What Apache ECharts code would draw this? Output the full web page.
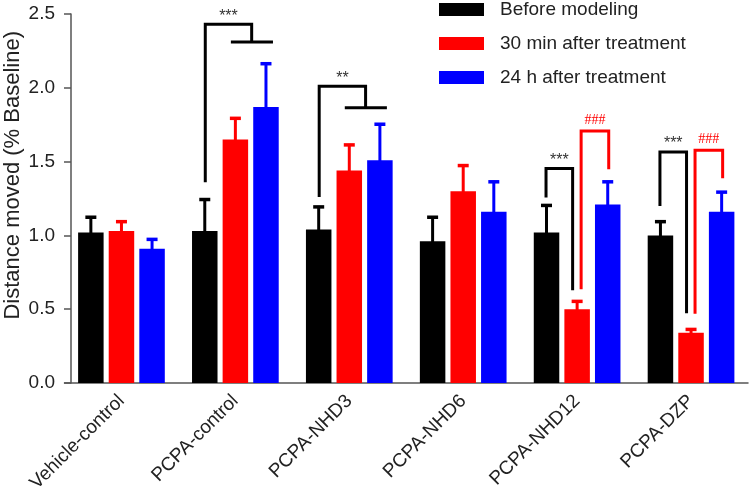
<!DOCTYPE html>
<html>
<head>
<meta charset="utf-8">
<script src="https://cdn.jsdelivr.net/npm/echarts@6/dist/echarts.min.js"></script>
<style>
html,body{margin:0;padding:0;background:#fff;}
#chart{width:749px;height:495px;}
</style>
</head>
<body>
<div id="chart"></div>
<script>
// ---- data ----
const categories = ['Vehicle-control','PCPA-control','PCPA-NHD3','PCPA-NHD6','PCPA-NHD12','PCPA-DZP'];
const seriesNames = ['Before modeling','30 min after treatment','24 h after treatment'];
const beforeMean = [1.02, 1.03, 1.04, 0.96, 1.02, 1.00];
const beforeErr  = [0.11, 0.22, 0.16, 0.17, 0.19, 0.10];
const min30Mean  = [1.03, 1.65, 1.44, 1.30, 0.50, 0.34];
const min30Err   = [0.07, 0.15, 0.18, 0.18, 0.06, 0.03];
const h24Mean    = [0.91, 1.87, 1.51, 1.16, 1.21, 1.16];
const h24Err     = [0.07, 0.30, 0.25, 0.21, 0.16, 0.14];
const yTicks = [0, 0.5, 1.0, 1.5, 2.0, 2.5];
// significance brackets spanning black bar -> (red+blue) group: [category, leg bottom, top, drop bottom, label]
const groupBrackets = [
  [1, 1.36, 2.43, 2.31, '***'],
  [2, 1.26, 2.01, 1.865, '**']
];
// pair brackets: [category, from bar, to bar, from bottom, top, to bottom, label]
const pairBrackets = [
  [4, 0, 1, 1.257, 1.453, 0.629, '***'],
  [4, 1, 2, 0.635, 1.707, 1.449, '###'],
  [5, 0, 1, 1.20, 1.565, 0.472, '***'],
  [5, 1, 2, 0.47, 1.577, 1.388, '###']
];

// ---- styling ----
const colors = ['#000000', '#ff0000', '#0000ff'];
const FONT = 'Liberation Sans, Arial, Helvetica, sans-serif';
const BAR_W = 25.5;
const BAR_GAP = 0.2;
const STEP = BAR_W * (1 + BAR_GAP);
const LW = 3;

const means = [beforeMean, min30Mean, h24Mean];
const errs = [beforeErr, min30Err, h24Err];

const chart = echarts.init(document.getElementById('chart'), null, {renderer: 'canvas'});

const barSeries = seriesNames.map((name, i) => ({
  name: name,
  type: 'bar',
  data: means[i],
  barWidth: BAR_W,
  barGap: (BAR_GAP * 100) + '%',
  itemStyle: {color: colors[i]},
  z: 2
}));

const errSeries = seriesNames.map((name, i) => ({
  type: 'custom',
  name: name + ' err',
  z: 3,
  silent: true,
  clip: false,
  data: means[i].map((m, k) => [k, m, m + errs[i][k]]),
  renderItem: function (params, api) {
    const c = api.value(0);
    const top = api.coord([c, api.value(1)]);
    const cap = api.coord([c, api.value(2)]);
    const x = top[0] + (i - 1) * STEP;
    return {
      type: 'group',
      children: [
        {type: 'line', shape: {x1: x, y1: top[1] + 1, x2: x, y2: cap[1]}, style: {stroke: colors[i], lineWidth: LW}},
        {type: 'line', shape: {x1: x - 5.5, y1: cap[1] + 1, x2: x + 5.5, y2: cap[1] + 1}, style: {stroke: colors[i], lineWidth: LW + 0.5}}
      ]
    };
  },
  encode: {x: 0, y: 1}
}));

function starText(x, y, text, color) {
  const hash = text.indexOf('#') >= 0;
  return {
    type: 'text',
    style: {
      text: text, x: x, y: y,
      textAlign: 'center', textVerticalAlign: 'middle',
      fill: color,
      fontSize: hash ? 14 : 16,
      fontFamily: hash ? 'Liberation Serif, serif' : FONT
    }
  };
}

const groupBracketSeries = {
  type: 'custom',
  z: 4, silent: true, clip: false,
  data: groupBrackets,
  encode: {x: 0, y: 2},
  renderItem: function (params, api) {
    const c = api.value(0);
    const p0 = api.coord([c, api.value(1)]);
    const pt = api.coord([c, api.value(2)]);
    const pd = api.coord([c, api.value(3)]);
    const cx = p0[0];
    const xl = cx - STEP + 0.5;
    const xr = cx + STEP / 2 + 1;
    const lab = groupBrackets[params.dataIndex][4];
    return {
      type: 'group',
      children: [
        {type: 'polyline', shape: {points: [[xl, p0[1]], [xl, pt[1]], [xr, pt[1]], [xr, pd[1]]]},
          style: {stroke: '#000', lineWidth: LW, fill: null}},
        {type: 'line', shape: {x1: cx - 4.5, y1: pd[1], x2: cx + STEP + 7, y2: pd[1]},
          style: {stroke: '#000', lineWidth: LW}},
        starText((xl + xr) / 2, pt[1] - 8, lab, '#333')
      ]
    };
  }
};

const pairBracketSeries = {
  type: 'custom',
  z: 4, silent: true, clip: false,
  data: pairBrackets,
  encode: {x: 0, y: 4},
  renderItem: function (params, api) {
    const c = api.value(0);
    const a = api.value(1), b = api.value(2);
    const pa = api.coord([c, api.value(3)]);
    const pt = api.coord([c, api.value(4)]);
    const pb = api.coord([c, api.value(5)]);
    const cx = pa[0];
    const xa = cx + (a - 1) * STEP + (a === 1 ? 4 : -0.5);
    const xb = cx + (b - 1) * STEP + (b === 1 ? -4.5 : 1);
    const lab = pairBrackets[params.dataIndex][6];
    const col = lab.indexOf('#') >= 0 ? '#ff0000' : '#000000';
    return {
      type: 'group',
      children: [
        {type: 'polyline', shape: {points: [[xa, pa[1]], [xa, pt[1]], [xb, pt[1]], [xb, pb[1]]]},
          style: {stroke: col, lineWidth: LW, fill: null}},
        starText((xa + xb) / 2, pt[1] - (col === '#000000' ? 8 : 11), lab, col === '#000000' ? '#333' : col)
      ]
    };
  }
};

const option = {
  animation: false,
  backgroundColor: '#ffffff',
  grid: {left: 64.5, right: 1, top: 14, bottom: 110, containLabel: false},
  legend: {
    orient: 'vertical',
    left: 439, top: 0, padding: 0,
    itemWidth: 45, itemHeight: 13, itemGap: 15,
    icon: 'rect',
    data: seriesNames,
    textStyle: {fontSize: 19, fontFamily: FONT, color: '#222', padding: [3, 0, 0, 11]},
    selectedMode: false
  },
  xAxis: {
    type: 'category',
    data: categories,
    axisLine: {lineStyle: {color: '#555', width: 1.5}},
    axisTick: {alignWithLabel: true, length: 7, lineStyle: {color: '#555', width: 1.5}},
    axisLabel: {rotate: 45, fontSize: 19, fontFamily: FONT, color: '#222', margin: 15, interval: 0}
  },
  yAxis: {
    type: 'value',
    min: yTicks[0], max: yTicks[yTicks.length - 1], interval: 0.5,
    offset: -6.5,
    axisLine: {show: true, lineStyle: {color: '#555', width: 1.5}},
    axisTick: {show: true, length: 7, lineStyle: {color: '#555', width: 1.5}},
    splitLine: {show: false},
    axisLabel: {fontSize: 19, fontFamily: FONT, color: '#222', margin: 16,
      formatter: v => v.toFixed(1)}
  },
  graphic: [{
    type: 'text',
    left: 2, top: 31,
    rotation: Math.PI / 2,
    style: {text: 'Distance moved (% Baseline)', fontSize: 22, fontFamily: FONT, fill: '#222'}
  }],
  series: [...barSeries, ...errSeries, groupBracketSeries, pairBracketSeries]
};
chart.setOption(option);
</script>
</body>
</html>
